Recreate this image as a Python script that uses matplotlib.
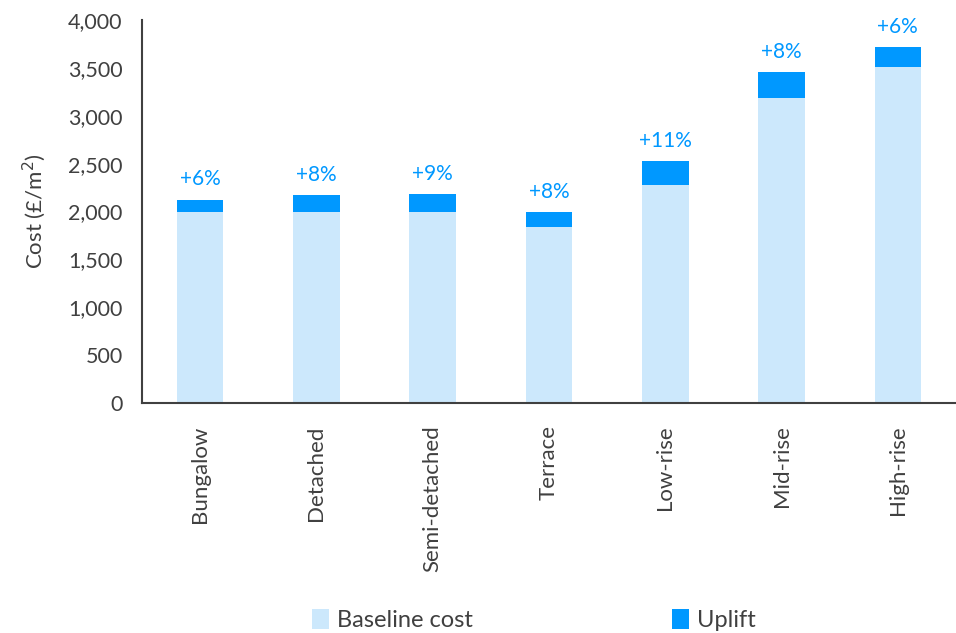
import matplotlib.pyplot as plt
import numpy as np

plt.rcParams['font.family'] = ['Lato', 'DejaVu Sans']

categories = ['Bungalow', 'Detached', 'Semi-detached', 'Terrace', 'Low-rise', 'Mid-rise', 'High-rise']
baseline = [2000, 2000, 2000, 1840, 2275, 3190, 3510]
uplift = [120, 168, 181, 153, 248, 265, 205]
pct_labels = ['+6%', '+8%', '+9%', '+8%', '+11%', '+8%', '+6%']

base_col = '#cce8fc'
up_col = '#0098ff'
txt_col = '#404040'

fig = plt.figure(figsize=(9.56, 6.33), dpi=100)
ax = fig.add_axes([142/956, 1-403/633, (956-142)/956, (403-20)/633])

x = np.arange(len(categories))
ax.bar(x, baseline, width=0.4, color=base_col, label='Baseline cost')
ax.bar(x, uplift, width=0.4, bottom=baseline, color=up_col, label='Uplift')

for i in range(len(x)):
    ax.text(x[i], baseline[i]+uplift[i]+110, pct_labels[i], ha='center', va='bottom',
            color=up_col, fontsize=15)

ax.set_xlim(-0.5, 6.5)
ax.set_ylim(0, 4000)
ax.set_yticks(range(0, 4001, 500))
ax.set_yticklabels([f'{v:,}' for v in range(0, 4001, 500)])
ax.set_xticks(x)
ax.set_xticklabels(categories, rotation=90)
ax.tick_params(length=0, colors=txt_col)
ax.tick_params(axis='y', labelsize=15.5, pad=14)
ax.tick_params(axis='x', labelsize=16, pad=16)

for s in ['top', 'right']:
    ax.spines[s].set_visible(False)
for s in ['left', 'bottom']:
    ax.spines[s].set_color(txt_col)
    ax.spines[s].set_linewidth(1.5)

ax.set_ylabel('Cost (£/m$^2$)', fontsize=16, color=txt_col, labelpad=14)

fig.legend(loc='center', bbox_to_anchor=(534/956, 1-620/633), ncol=2, frameon=False,
           fontsize=17, handlelength=0.7, handleheight=0.9, handletextpad=0.35,
           columnspacing=8.45, labelcolor=txt_col)

fig.savefig('out.png', dpi=100)
